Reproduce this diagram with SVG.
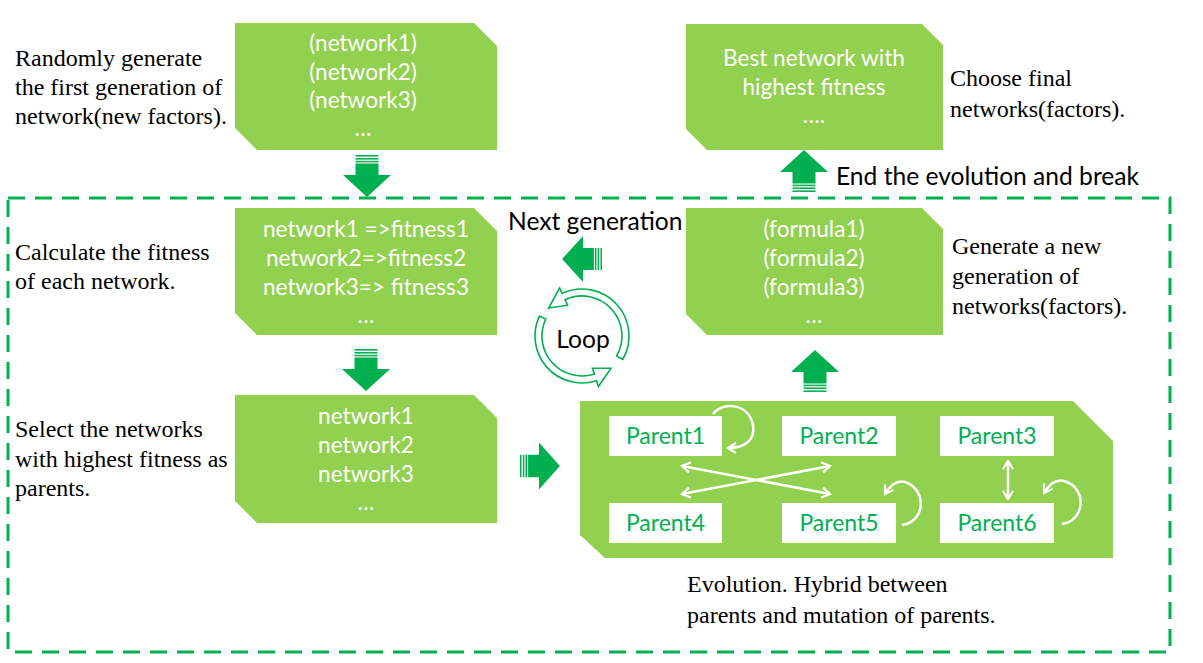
<svg xmlns="http://www.w3.org/2000/svg" width="1203" height="663" viewBox="0 0 1203 663">
<style>
.box{fill:#92D050;}
.bt{font-family:Lato,"Noto Sans",sans-serif;font-size:22.6px;fill:#ffffff;text-anchor:middle;}
.st{font-family:"Liberation Serif","Times New Roman",serif;font-size:24px;fill:#000000;}
.lt{font-family:Lato,"Noto Sans",sans-serif;font-size:24.6px;fill:#000000;}
.pb{fill:#ffffff;}
.pt{font-family:Lato,"Noto Sans",sans-serif;font-size:23px;fill:#00B050;text-anchor:middle;}
.wl{fill:none;stroke:#ffffff;stroke-width:2.5;}
.ga{fill:#00B050;}
.gs{fill:#00B050;}
.loop{fill:#ffffff;stroke:#00B050;stroke-width:1.6;}
</style>
<defs>
<marker id="wh" markerUnits="userSpaceOnUse" markerWidth="14" markerHeight="14" refX="9" refY="6" orient="auto-start-reverse" viewBox="0 0 14 12">
<path d="M1,1 L9,6 L1,11" fill="none" stroke="#ffffff" stroke-width="2.2"/>
</marker>
<g id="darrow">
<rect class="gs" x="-11.5" y="0" width="23" height="1.6"/>
<rect class="gs" x="-11.5" y="3" width="23" height="1.6"/>
<rect class="gs" x="-11.5" y="5.8" width="23" height="1.6"/>
<path class="ga" d="M-11.5,8.5 L11.5,8.5 L11.5,20 L24,20 L0,42 L-24,20 L-11.5,20 Z"/>
</g>
</defs>
<rect width="1203" height="663" fill="#ffffff"/>

<g id="frame">
<rect x="8" y="198" width="1162" height="454" fill="none" stroke="#00B050" stroke-width="3" stroke-dasharray="17 10"/>
</g>

<g id="box-initial">
<polygon class="box" points="235,23 474,23 497,46 497,150 257,150 235,128"/>
<text class="bt" x="363" y="51">(network1)</text>
<text class="bt" x="363" y="80">(network2)</text>
<text class="bt" x="363" y="108">(network3)</text>
<text class="bt" x="363" y="136">…</text>
</g>
<g id="label-initial">
<text class="st" x="15" y="66">Randomly generate</text>
<text class="st" x="15" y="95">the first generation of</text>
<text class="st" x="15" y="124">network(new factors).</text>
</g>

<g id="box-fitness">
<polygon class="box" points="235,208 474,208 497,231 497,335 257,335 235,313"/>
<text class="bt" x="366" y="237">network1 =&gt;fitness1</text>
<text class="bt" x="366" y="266">network2=&gt;fitness2</text>
<text class="bt" x="366" y="295">network3=&gt; fitness3</text>
<text class="bt" x="366" y="323">…</text>
</g>
<g id="label-fitness">
<text class="st" x="15" y="260">Calculate the fitness</text>
<text class="st" x="15" y="289">of each network.</text>
</g>

<g id="box-select">
<polygon class="box" points="235,395 474,395 497,418 497,523 257,523 235,501"/>
<text class="bt" x="366" y="424">network1</text>
<text class="bt" x="366" y="453">network2</text>
<text class="bt" x="366" y="482">network3</text>
<text class="bt" x="366" y="510">…</text>
</g>
<g id="label-select">
<text class="st" x="15" y="437">Select the networks</text>
<text class="st" x="15" y="467">with highest fitness as</text>
<text class="st" x="15" y="496">parents.</text>
</g>

<g id="box-best">
<polygon class="box" points="686,24 922,24 943,45 943,150 707,150 686,129"/>
<text class="bt" x="814" y="66">Best network with</text>
<text class="bt" x="814" y="95">highest fitness</text>
<text class="bt" x="814" y="123">….</text>
</g>
<g id="label-best">
<text class="st" x="950" y="86">Choose final</text>
<text class="st" x="950" y="117">networks(factors).</text>
</g>

<g id="box-formula">
<polygon class="box" points="686,208 922,208 943,229 943,335 707,335 686,314"/>
<text class="bt" x="814" y="237">(formula1)</text>
<text class="bt" x="814" y="266">(formula2)</text>
<text class="bt" x="814" y="295">(formula3)</text>
<text class="bt" x="814" y="323">…</text>
</g>
<g id="label-formula">
<text class="st" x="952" y="254">Generate a new</text>
<text class="st" x="952" y="284">generation of</text>
<text class="st" x="952" y="314">networks(factors).</text>
</g>

<g id="box-evolution">
<polygon class="box" points="580,401 1073,401 1113,441 1113,558 605,558 580,535"/>
</g>
<g id="parent1"><rect class="pb" x="609" y="416" width="113" height="40"/><text class="pt" x="665.5" y="444">Parent1</text></g>
<g id="parent2"><rect class="pb" x="782" y="416" width="114" height="40"/><text class="pt" x="839" y="444">Parent2</text></g>
<g id="parent3"><rect class="pb" x="940" y="416" width="114" height="40"/><text class="pt" x="997" y="444">Parent3</text></g>
<g id="parent4"><rect class="pb" x="609" y="503" width="113" height="40"/><text class="pt" x="665.5" y="531">Parent4</text></g>
<g id="parent5"><rect class="pb" x="782" y="503" width="114" height="40"/><text class="pt" x="839" y="531">Parent5</text></g>
<g id="parent6"><rect class="pb" x="940" y="503" width="114" height="40"/><text class="pt" x="997" y="531">Parent6</text></g>
<g id="label-evolution">
<text class="st" x="687" y="592">Evolution. Hybrid between</text>
<text class="st" x="687" y="623">parents and mutation of parents.</text>
</g>

<g id="connectors">
<use href="#darrow" transform="translate(367,155)"/>
<use href="#darrow" transform="translate(366,349)"/>
<use href="#darrow" transform="translate(804,192) rotate(180)"/>
<use href="#darrow" transform="translate(815,392) rotate(180)"/>
<use href="#darrow" transform="translate(520,466) rotate(-90) scale(0.98,0.95)"/>
<use href="#darrow" transform="translate(602,259) rotate(90) scale(0.96,0.95)"/>
<path class="wl" d="M682,466 L830,494" marker-start="url(#wh)" marker-end="url(#wh)"/>
<path class="wl" d="M682,494 L830,466" marker-start="url(#wh)" marker-end="url(#wh)"/>
<path class="wl" d="M1008,461 L1008,499" marker-start="url(#wh)" marker-end="url(#wh)"/>
<path class="wl" d="M713,414 C722,402 748,402 753,425 C756,442 742,448 728,448" marker-end="url(#wh)"/>
<path class="wl" d="M902,525 C925,522 928,490 905,482 C897,480 890,486 885,494" marker-end="url(#wh)"/>
<path class="wl" d="M1062,524 C1085,521 1088,488 1064,481 C1056,479 1049,485 1044,493" marker-end="url(#wh)"/>
<path class="loop" d="M622.7,359.5 A47,47 0 0 0 562.1,293.4 L559.6,288 L548.7,308 L567.6,305.2 L565.1,299.7 A40,40 0 0 1 616.6,356 Z"/>
<path class="loop" d="M539.4,316.1 A47,47 0 0 0 596.5,380.7 L598.4,386.4 L611.1,368.3 L592.5,368.3 L594.4,374 A40,40 0 0 1 545.7,319.1 Z"/>
</g>
<g id="labels">
<text class="lt" x="508" y="230">Next generation</text>
<text class="lt" x="836" y="185">End the evolution and break</text>
<text class="lt" x="583" y="348" text-anchor="middle">Loop</text>
</g>
</svg>
